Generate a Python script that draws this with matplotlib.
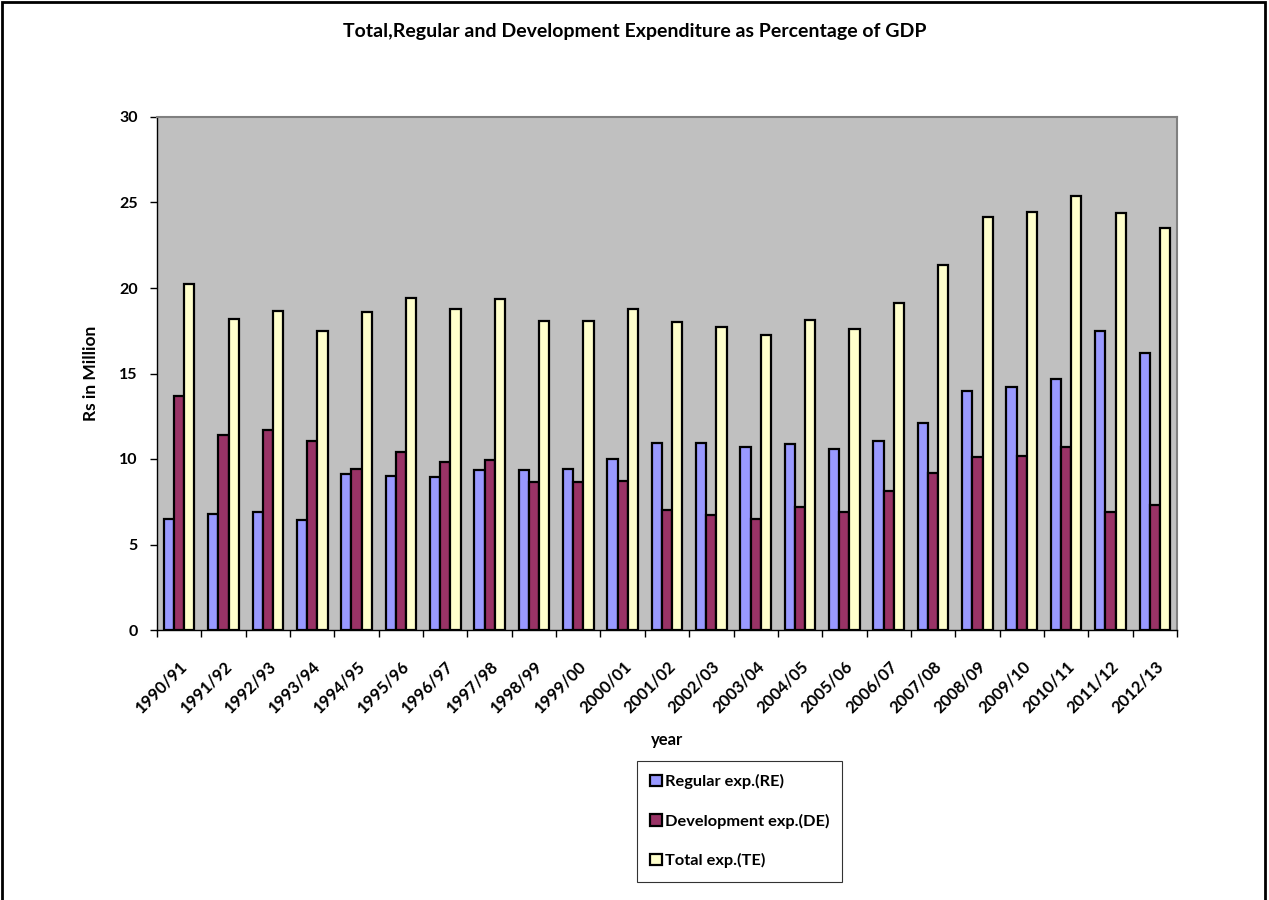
import matplotlib.pyplot as plt
import numpy as np
from matplotlib.patches import Rectangle

# Datos
years = ["1990/91", "1991/92", "1992/93", "1993/94", "1994/95", "1995/96",
         "1996/97", "1997/98", "1998/99", "1999/00", "2000/01", "2001/02",
         "2002/03", "2003/04", "2004/05", "2005/06", "2006/07", "2007/08",
         "2008/09", "2009/10", "2010/11", "2011/12", "2012/13"]
regular_exp = [6.5, 6.8, 6.9, 6.45, 9.15, 9.0, 8.95, 9.35, 9.35, 9.4, 10.0,
               10.95, 10.95, 10.7, 10.85, 10.6, 11.05, 12.1, 14.0, 14.2,
               14.65, 17.5, 16.2]
development_exp = [13.7, 11.4, 11.7, 11.05, 9.4, 10.4, 9.8, 9.95, 8.65,
                   8.65, 8.7, 7.0, 6.7, 6.5, 7.2, 6.9, 8.1, 9.2, 10.1, 10.2,
                   10.7, 6.9, 7.3]
total_exp = [20.25, 18.2, 18.65, 17.5, 18.6, 19.4, 18.8, 19.35, 18.05, 18.05,
             18.75, 18.0, 17.7, 17.25, 18.1, 17.6, 19.15, 21.35, 24.15, 24.45,
             25.4, 24.4, 23.5]

series_names = ["Regular exp.(RE)", "Development exp.(DE)", "Total exp.(TE)"]
series_colors = ["#9999FF", "#993366", "#FFFFCC"]

plt.rcParams["font.family"] = ["Lato", "DejaVu Sans"]
plt.rcParams["font.weight"] = "bold"

fig = plt.figure(figsize=(12.69, 9), dpi=100)
ax = fig.add_axes([157 / 1269, 1 - 630 / 900, (1177 - 157) / 1269, (630 - 117) / 900])
ax.set_facecolor("#C0C0C0")

x = np.arange(len(years))
bar_w = 0.23
for i, (vals, name, col) in enumerate(zip([regular_exp, development_exp, total_exp],
                                          series_names, series_colors)):
    ax.bar(x + (i - 1) * bar_w, vals, width=bar_w, color=col, edgecolor="black",
           linewidth=1.6, label=name, zorder=3)

ax.set_xlim(-0.5, len(years) - 0.5)
ax.set_ylim(0, 30)
ax.set_yticks(np.arange(0, 31, 5))
ax.set_xticks(np.arange(len(years) + 1) - 0.5, minor=False)
ax.set_xticklabels([])
ax.set_xticks(x, minor=True)
ax.set_xticklabels(years, minor=True, rotation=45, ha="right",
                   rotation_mode="anchor", fontsize=12, fontweight="bold")
ax.tick_params(axis="x", which="minor", length=0, pad=20)
ax.tick_params(axis="x", which="major", length=5, direction="out", width=1)
ax.tick_params(axis="y", length=5, direction="out", width=1, labelsize=11.5, pad=9)
for lab in ax.get_yticklabels():
    lab.set_fontweight("bold")

for side in ["top", "right"]:
    ax.spines[side].set_color("#808080")
    ax.spines[side].set_linewidth(1.5)
for side in ["left", "bottom"]:
    ax.spines[side].set_color("black")
    ax.spines[side].set_linewidth(1)

ax.set_ylabel("Rs in Million", fontsize=12.5, fontweight="bold", labelpad=14)
fig.text((157 + 1177) / 2 / 1269, 1 - 740 / 900, "year", ha="center", va="center",
         fontsize=12, fontweight="bold")
fig.text(0.5, 1 - 32 / 900, "Total,Regular and Development Expenditure as Percentage of GDP",
         ha="center", va="center", fontsize=14, fontweight="bold")

leg = ax.legend(loc="upper left", bbox_to_anchor=(637 / 1269, 1 - 761 / 900),
                bbox_transform=fig.transFigure, fontsize=11.8, frameon=True,
                fancybox=False, edgecolor="black", handlelength=0.7,
                handleheight=0.7, handletextpad=0.2, labelspacing=1.5,
                borderpad=0.8, borderaxespad=0)
leg.get_frame().set_linewidth(0.8)
for t in leg.get_texts():
    t.set_fontweight("bold")

# Marco exterior de la figura
fig.patches.append(Rectangle((2 / 1269, -0.01), 1263 / 1269, 1 - 2 / 900 + 0.01,
                             transform=fig.transFigure, fill=False,
                             edgecolor="black", linewidth=2))

fig.savefig("out.png", dpi=100)
